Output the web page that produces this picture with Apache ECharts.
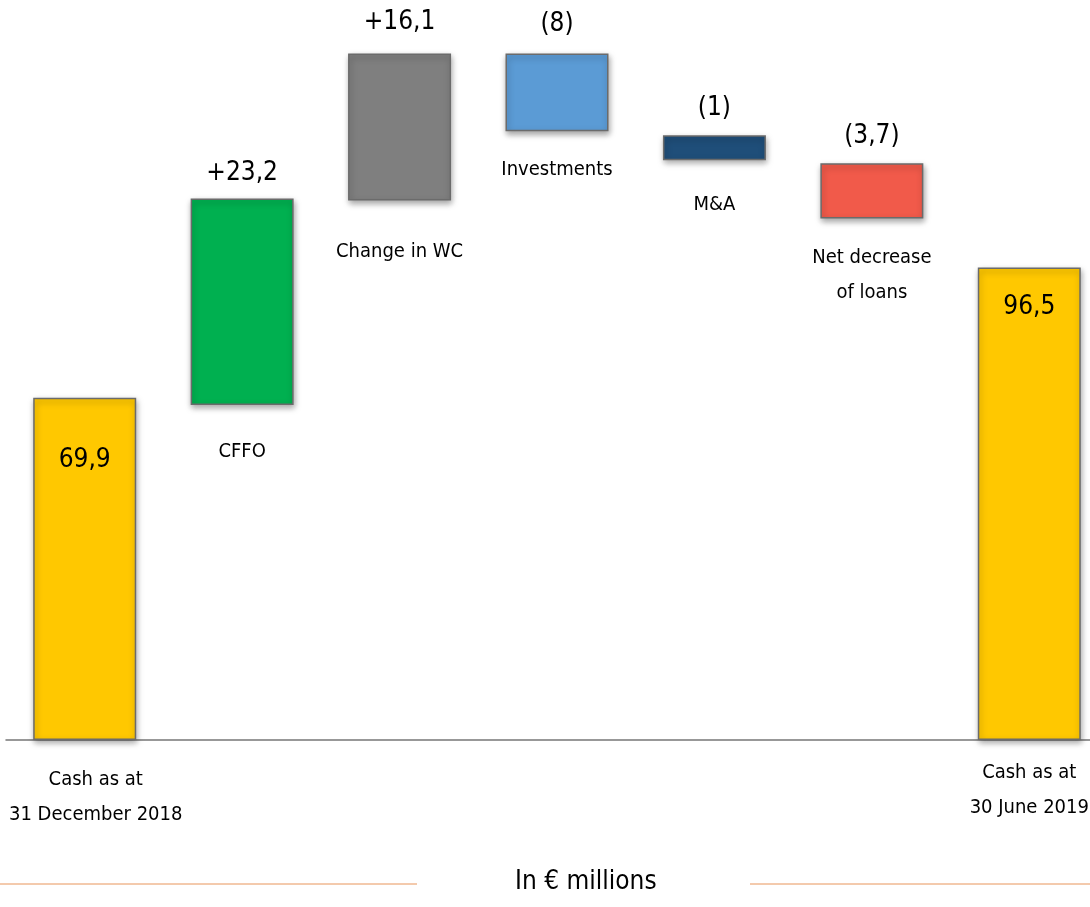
<!DOCTYPE html>
<html>
<head>
<meta charset="utf-8">
<script src="https://cdn.jsdelivr.net/npm/echarts@6/dist/echarts.min.js"></script>
<style>html,body{margin:0;padding:0;background:#fff;overflow:hidden;}#c{width:1112px;height:907px;}</style>
</head>
<body>
<div id="c"></div>
<script>
// ---- data ----
const categories = ['Cash as at\n31 December 2018', 'CFFO', 'Change in WC', 'Investments', 'M&A', 'Net decrease\nof loans', 'Cash as at\n30 June 2019'];
const statedValues = [69.9, 23.2, 16.1, -8, -1, -3.7, 96.5];           // numbers printed on the chart
const barBase = [0, 68.4, 110.2, 124.3, 118.4, 106.5, 0];               // drawn bottom of each floating bar (axis units)
const barHeight = [69.9, 42.2, 30.0, 15.9, 5.1, 11.3, 96.5];            // drawn height of each bar (axis units)
const unitLabel = 'In € millions';

// ---- styling ----
const FONT = "'Liberation Sans Narrow', 'DejaVu Sans Condensed', 'Noto Sans', sans-serif";
const colors = ['#FFC800', '#00B050', '#7F7F7F', '#5B9BD5', '#1F4E79', '#F15A4A', '#FFC800'];
const valuePos = [
  {position: 'insideTop', distance: 50},
  {position: 'top', distance: 12},
  {position: 'top', distance: 18},
  {position: 'top', distance: 16},
  {position: 'top', distance: 14},
  {position: 'top', distance: 14},
  {position: 'insideTop', distance: 27}
];
const catPos = [
  {position: 'bottom', distance: 22, offset: [11, 0]},
  {position: 'insideTop', distance: 29},
  {position: 'insideTop', distance: 34},
  {position: 'insideTop', distance: 21},
  {position: 'insideTop', distance: 27},
  {position: 'insideTop', distance: 22},
  {position: 'bottom', distance: 15}
];

function fmt(v, i) {
  const s = Math.abs(v).toString().replace('.', ',');
  if (i === 0 || i === statedValues.length - 1) return s;
  return v >= 0 ? '+' + s : '(' + s + ')';
}

const baseData = barBase.map((b, i) => ({
  value: b,
  label: {
    show: true,
    position: catPos[i].position,
    distance: catPos[i].distance,
    offset: catPos[i].offset || [0, 0],
    formatter: () => categories[i],
    fontFamily: FONT, fontSize: 20, color: '#000', lineHeight: 35
  }
}));

const visData = barHeight.map((h, i) => ({
  value: h,
  itemStyle: {color: colors[i]},
  label: {
    show: true,
    position: valuePos[i].position,
    distance: valuePos[i].distance,
    formatter: () => fmt(statedValues[i], i),
    fontFamily: FONT, fontSize: 26, fontWeight: 'normal', color: '#000'
  }
}));

const chart = echarts.init(document.getElementById('c'), null, {renderer: 'canvas'});
chart.setOption({
  animation: false,
  grid: {left: 6, right: 4, top: 30, bottom: 167, containLabel: false},
  xAxis: {
    type: 'category',
    data: categories,
    axisLine: {show: true, lineStyle: {color: '#777', width: 1.5}},
    axisTick: {show: false},
    axisLabel: {show: false}
  },
  yAxis: {
    type: 'value', min: 0, max: 145,
    show: false
  },
  series: [
    {
      type: 'bar', stack: 'w', barWidth: 103,
      itemStyle: {color: 'rgba(0,0,0,0)'},
      emphasis: {disabled: true},
      data: baseData, z: 3
    },
    {
      type: 'bar', stack: 'w', barWidth: 103,
      itemStyle: {borderColor: '#6b6b6b', borderWidth: 1.5, shadowBlur: 6, shadowOffsetY: 3, shadowOffsetX: 1, shadowColor: 'rgba(0,0,0,0.35)'},
      emphasis: {disabled: true},
      data: visData, z: 2
    }
  ],
  graphic: [
    {type: 'text', left: 515, top: 869, style: {text: unitLabel, font: "26px " + FONT, fill: '#000'}},
    {type: 'line', shape: {x1: 0, y1: 884, x2: 417, y2: 884}, style: {stroke: '#E8955A', lineWidth: 1}},
    {type: 'line', shape: {x1: 750, y1: 884, x2: 1112, y2: 884}, style: {stroke: '#E8955A', lineWidth: 1}}
  ]
});
</script>
</body>
</html>
